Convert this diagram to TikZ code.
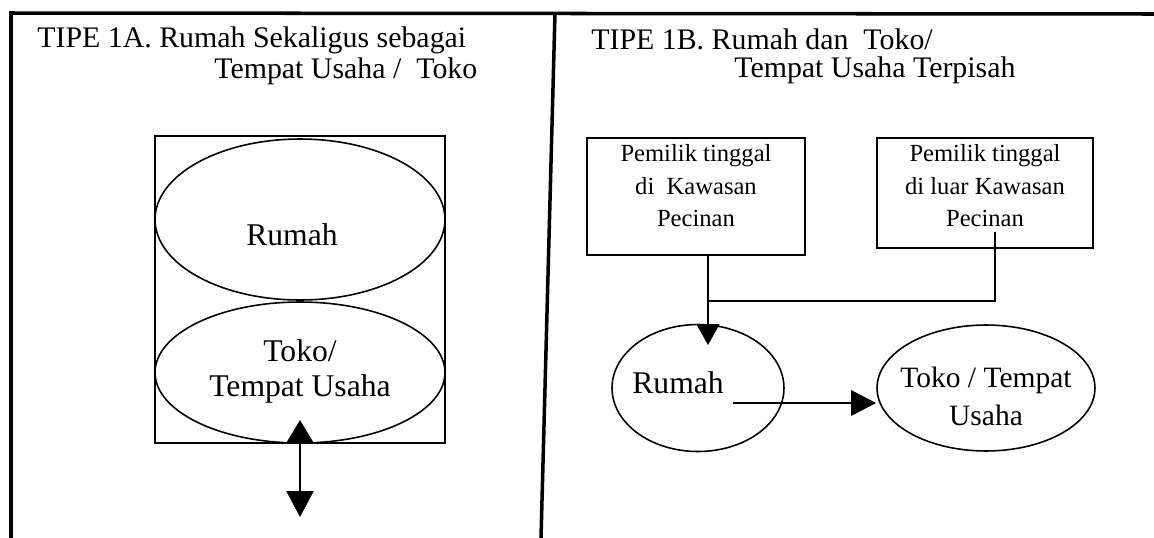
\documentclass[tikz,border=0pt]{standalone}
\usepackage{fontspec}
\setmainfont{Liberation Serif}
\usetikzlibrary{arrows.meta,shapes.geometric}
\begin{document}
\begin{tikzpicture}[x=0.02cm,y=-0.02cm,
  frame/.style={line width=2pt},
  boxline/.style={draw,line width=1.1pt,inner sep=0pt},
  ell/.style={draw,ellipse,line width=0.9pt,inner sep=0pt},
  conn/.style={line width=1.1pt},
  arr/.style={line width=1.5pt},
  headA/.style={-{Triangle[length=0.5cm,width=0.5cm]}},
  headB/.style={-{Triangle[length=0.42cm,width=0.46cm]}},
  dbl/.style={{Triangle[length=0.46cm,width=0.54cm]}-{Triangle[length=0.52cm,width=0.54cm]}},
  title/.style={inner sep=0pt,anchor=west,font=\fontsize{17}{20}\selectfont},
  big/.style={inner sep=0pt,align=center,font=\fontsize{18}{20}\selectfont},
  mid/.style={inner sep=0pt,align=center,font=\fontsize{16.8}{21}\selectfont},
  small/.style={inner sep=0pt,align=center,font=\fontsize{14}{18.5}\selectfont},
]
\useasboundingbox (0,0) rectangle (1154,538);
% frame
\coordinate (ftl) at (11,13);
\coordinate (fbl) at (11,538);
\coordinate (ftr) at (1154,14);
\coordinate (dtop) at (555,13);
\coordinate (dbot) at (541,538);
\draw[frame] (fbl) -- (ftl) -- (ftr);
\draw[frame] (dtop) -- (dbot);

% left panel
\node[title] (t1a) at (37,40) {TIPE 1A. Rumah Sekaligus sebagai};
\node[title] (t1b) at (214,71) {Tempat Usaha /~ Toko};
\node[boxline,minimum width=5.8cm,minimum height=6.14cm] (boxL) at (300,289.5) {};
\node[ell,minimum width=5.8cm,minimum height=3.22cm] (rumahA) at (300,219.5) {};
\node[ell,minimum width=5.8cm,minimum height=2.82cm] (tokoA) at (300,372.5) {};
\node[big] (rumahAt) at (292,235) {Rumah};
\node[big] (tokoAt) at (300,371) {Toko/\\Tempat Usaha};
\coordinate (upA) at (300,420);
\coordinate (dnA) at (300,517);
\draw[arr,dbl] (upA) -- (dnA);

% right panel
\node[title] (t2a) at (591,39) {TIPE 1B. Rumah dan~ Toko/};
\node[title] (t2b) at (734,70) {Tempat Usaha Terpisah};
\node[boxline,minimum width=4.36cm,minimum height=2.34cm] (box1) at (696,196.5) {};
\node[small] (box1t) at (696,186) {Pemilik tinggal\\di~ Kawasan\\Pecinan};
\node[boxline,minimum width=4.32cm,minimum height=2.2cm] (box2) at (985,193) {};
\node[small] (box2t) at (985,186) {Pemilik tinggal\\di luar Kawasan\\Pecinan};
\node[ell,minimum width=3.44cm,minimum height=2.54cm] (rumahB) at (698,388) {};
\node[big,anchor=west] (rumahBt) at (632,383) {Rumah};
\node[ell,minimum width=4.36cm,minimum height=2.52cm] (tokoB) at (986,388) {};
\node[mid] (tokoBt) at (986,396.5) {Toko / Tempat\\[1pt]Usaha};

\coordinate (j) at (708,301);
\coordinate (tip1) at (708,345);
\coordinate (b2s) at (995,232);
\draw[conn] (b2s) |- (j);
\draw[conn,headB] (box1.south -| j) -- (tip1);
\coordinate (as) at (733,403);
\draw[arr,headA] (as) -- (as -| tokoB.west);
\end{tikzpicture}
\end{document}
